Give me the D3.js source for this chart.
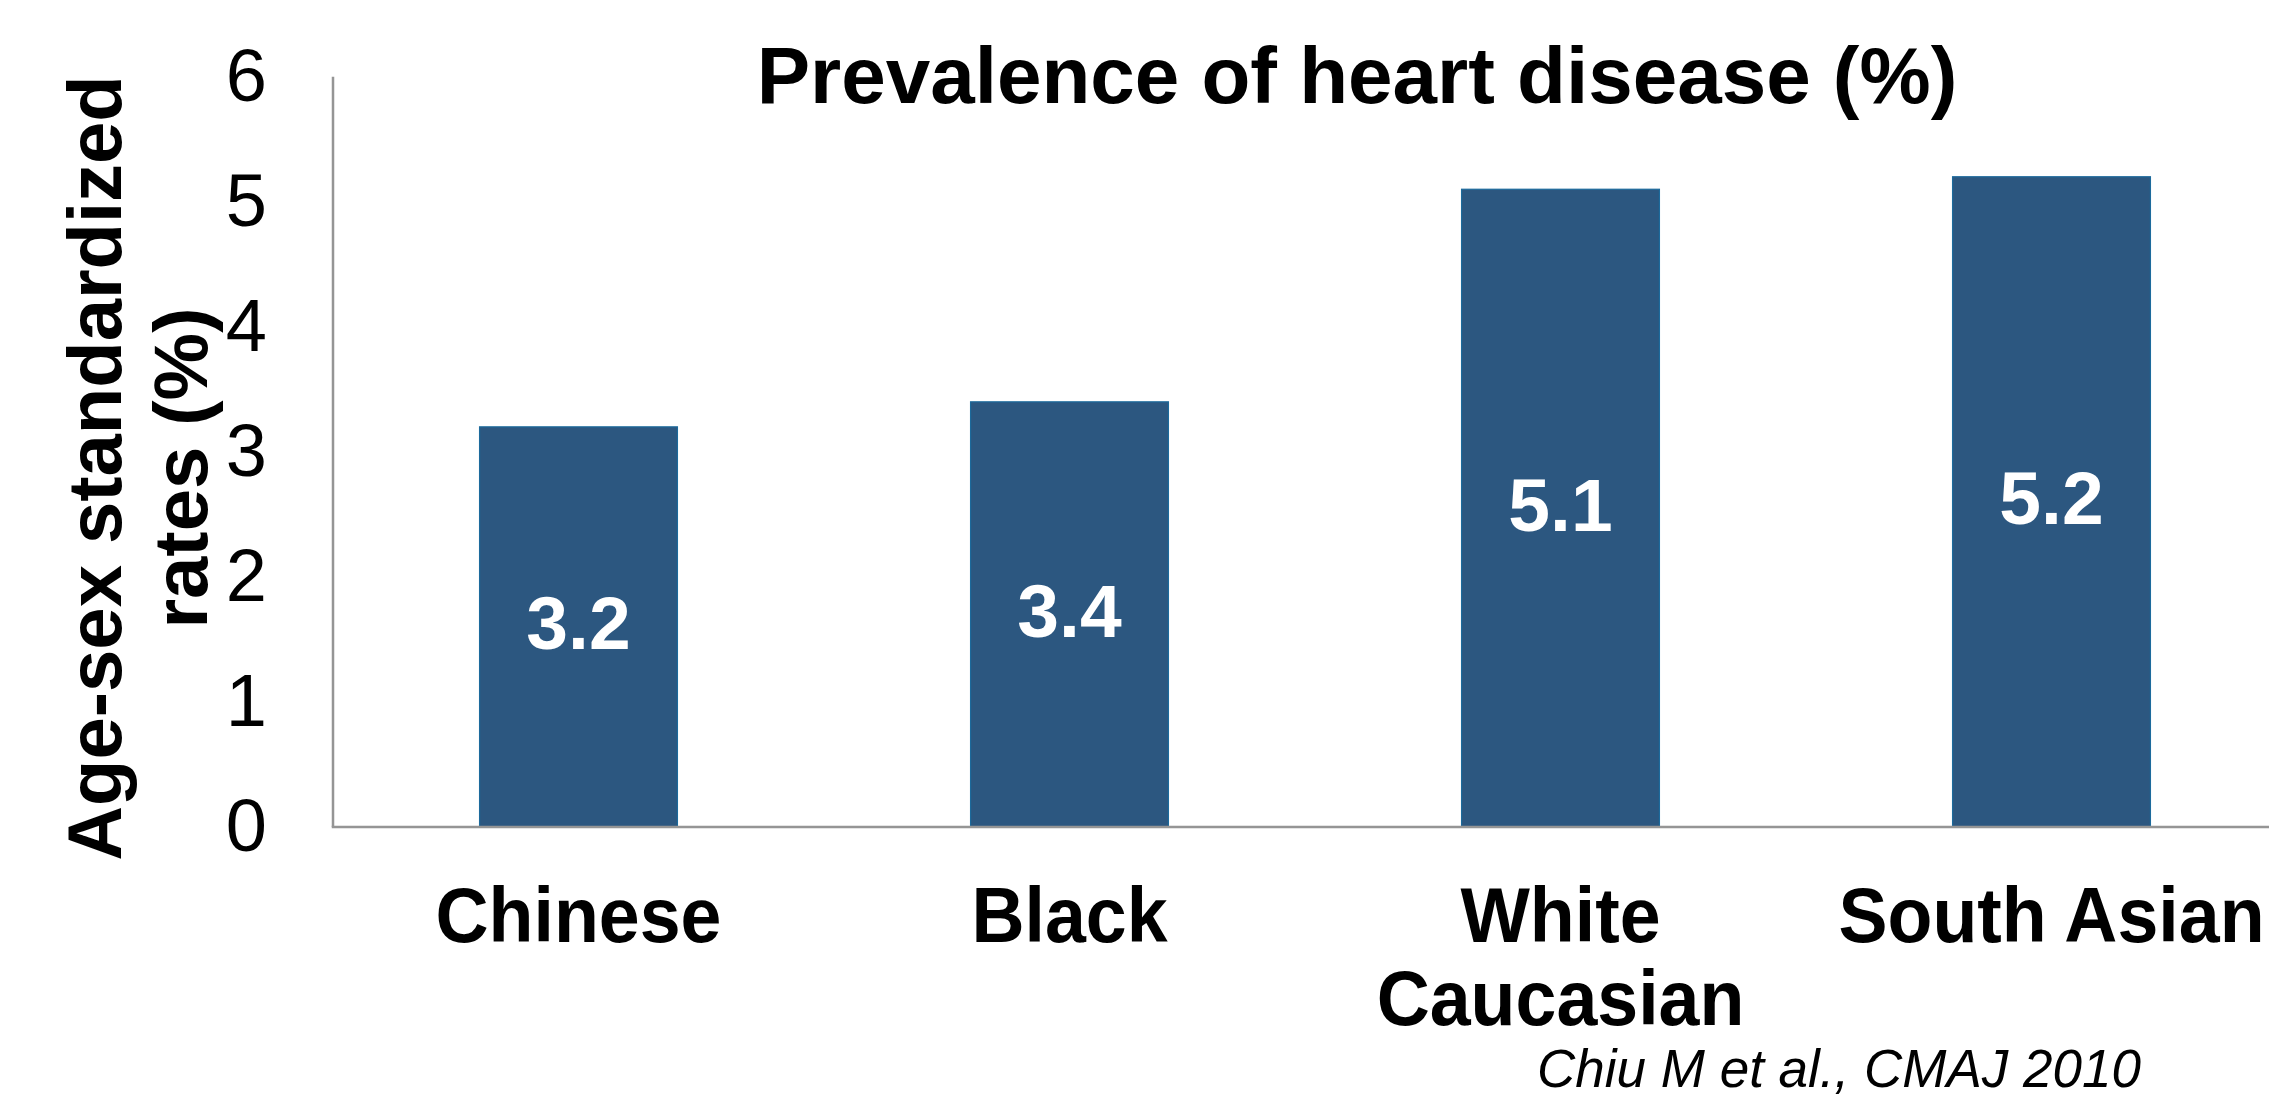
<!DOCTYPE html>
<html>
<head>
<meta charset="utf-8">
<script src="https://cdn.jsdelivr.net/npm/d3@7"></script>
<style>
  html, body { margin: 0; padding: 0; background: #ffffff; }
  svg { display: block; }
  text { font-family: "Liberation Sans", Arial, Helvetica, sans-serif; }
</style>
</head>
<body>
<svg id="chart" width="2269" height="1103"></svg>
<script>
// Age-sex standardized prevalence of heart disease by ethnic group
const categories = ["Chinese", "Black", "White Caucasian", "South Asian"];
const categoryLines = [["Chinese"], ["Black"], ["White", "Caucasian"], ["South Asian"]];
const values = [3.2, 3.4, 5.1, 5.2];
const yTicks = [0, 1, 2, 3, 4, 5, 6];

const chartTitle = "Prevalence of heart disease (%)";
const yTitleLines = ["Age-sex standardized", "rates (%)"];
const source = "Chiu M et al., CMAJ 2010";

const W = 2269, H = 1103;
const plot = { left: 333, top: 76.7, bottom: 827, right: 2297 };

const svg = d3.select("#chart");

const y = d3.scaleLinear().domain([0, 6]).range([plot.bottom, plot.top]);
const x = d3.scaleBand()
  .domain(categories)
  .range([plot.left, plot.right])
  .paddingInner(0.597)
  .paddingOuter(0.2985);

// bars
svg.append("g")
  .selectAll("rect")
  .data(values)
  .join("rect")
  .attr("x", (d, i) => x(categories[i]))
  .attr("y", d => y(d))
  .attr("width", x.bandwidth())
  .attr("height", d => y(0) - y(d))
  .attr("fill", "#2c5780")
  .attr("stroke", "#1c6a9c")
  .attr("stroke-width", 1.2);

// value labels inside bars
svg.append("g")
  .selectAll("text")
  .data(values)
  .join("text")
  .attr("x", (d, i) => x(categories[i]) + x.bandwidth() / 2)
  .attr("y", d => y(d / 2))
  .attr("dy", "0.3em")
  .attr("text-anchor", "middle")
  .attr("fill", "#ffffff")
  .attr("font-weight", "bold")
  .attr("font-size", 75)
  .text(d => d.toFixed(1));

// y axis (labels only)
const yAxis = svg.append("g")
  .attr("transform", `translate(${plot.left},0)`)
  .call(d3.axisLeft(y).tickValues(yTicks).tickSize(0).tickPadding(66).tickFormat(d3.format("d")));
yAxis.select(".domain").remove();
yAxis.selectAll("text")
  .attr("font-size", 74)
  .attr("fill", "#000000")
  .style("font-family", '"Liberation Sans", Arial, sans-serif');

// axis lines
svg.append("line")
  .attr("x1", plot.left).attr("x2", plot.left)
  .attr("y1", plot.top).attr("y2", plot.bottom)
  .attr("stroke", "#959595").attr("stroke-width", 2.5);
svg.append("line")
  .attr("x1", plot.left - 1.25).attr("x2", W)
  .attr("y1", plot.bottom).attr("y2", plot.bottom)
  .attr("stroke", "#959595").attr("stroke-width", 2.5);

// category labels (slightly condensed bold face)
const xl = svg.append("g")
  .selectAll("g")
  .data(categories)
  .join("g")
  .attr("transform", d => `translate(${x(d) + x.bandwidth() / 2},942) scale(0.955,1)`);
xl.append("text")
  .attr("text-anchor", "middle")
  .attr("font-weight", "bold")
  .attr("font-size", 77)
  .attr("fill", "#000000")
  .each(function (d, i) {
    const t = d3.select(this);
    categoryLines[i].forEach((line, k) => {
      t.append("tspan")
        .attr("x", 0)
        .attr("dy", k === 0 ? 0 : 83)
        .text(line);
    });
  });

// title
svg.append("text")
  .attr("x", 1357)
  .attr("y", 103)
  .attr("text-anchor", "middle")
  .attr("font-weight", "bold")
  .attr("font-size", 80)
  .attr("fill", "#000000")
  .text(chartTitle);

// y axis title, two rotated lines
const yt = svg.append("text")
  .attr("transform", "translate(0,468) rotate(-90)")
  .attr("text-anchor", "middle")
  .attr("font-weight", "bold")
  .attr("font-size", 76)
  .attr("fill", "#000000");
yTitleLines.forEach((line, k) => {
  yt.append("tspan")
    .attr("x", 0)
    .attr("y", k === 0 ? 121 : 207)
    .text(line);
});

// source
svg.append("text")
  .attr("x", 1839)
  .attr("y", 1087)
  .attr("text-anchor", "middle")
  .attr("font-style", "italic")
  .attr("font-size", 53)
  .attr("fill", "#000000")
  .text(source);
</script>
</body>
</html>
